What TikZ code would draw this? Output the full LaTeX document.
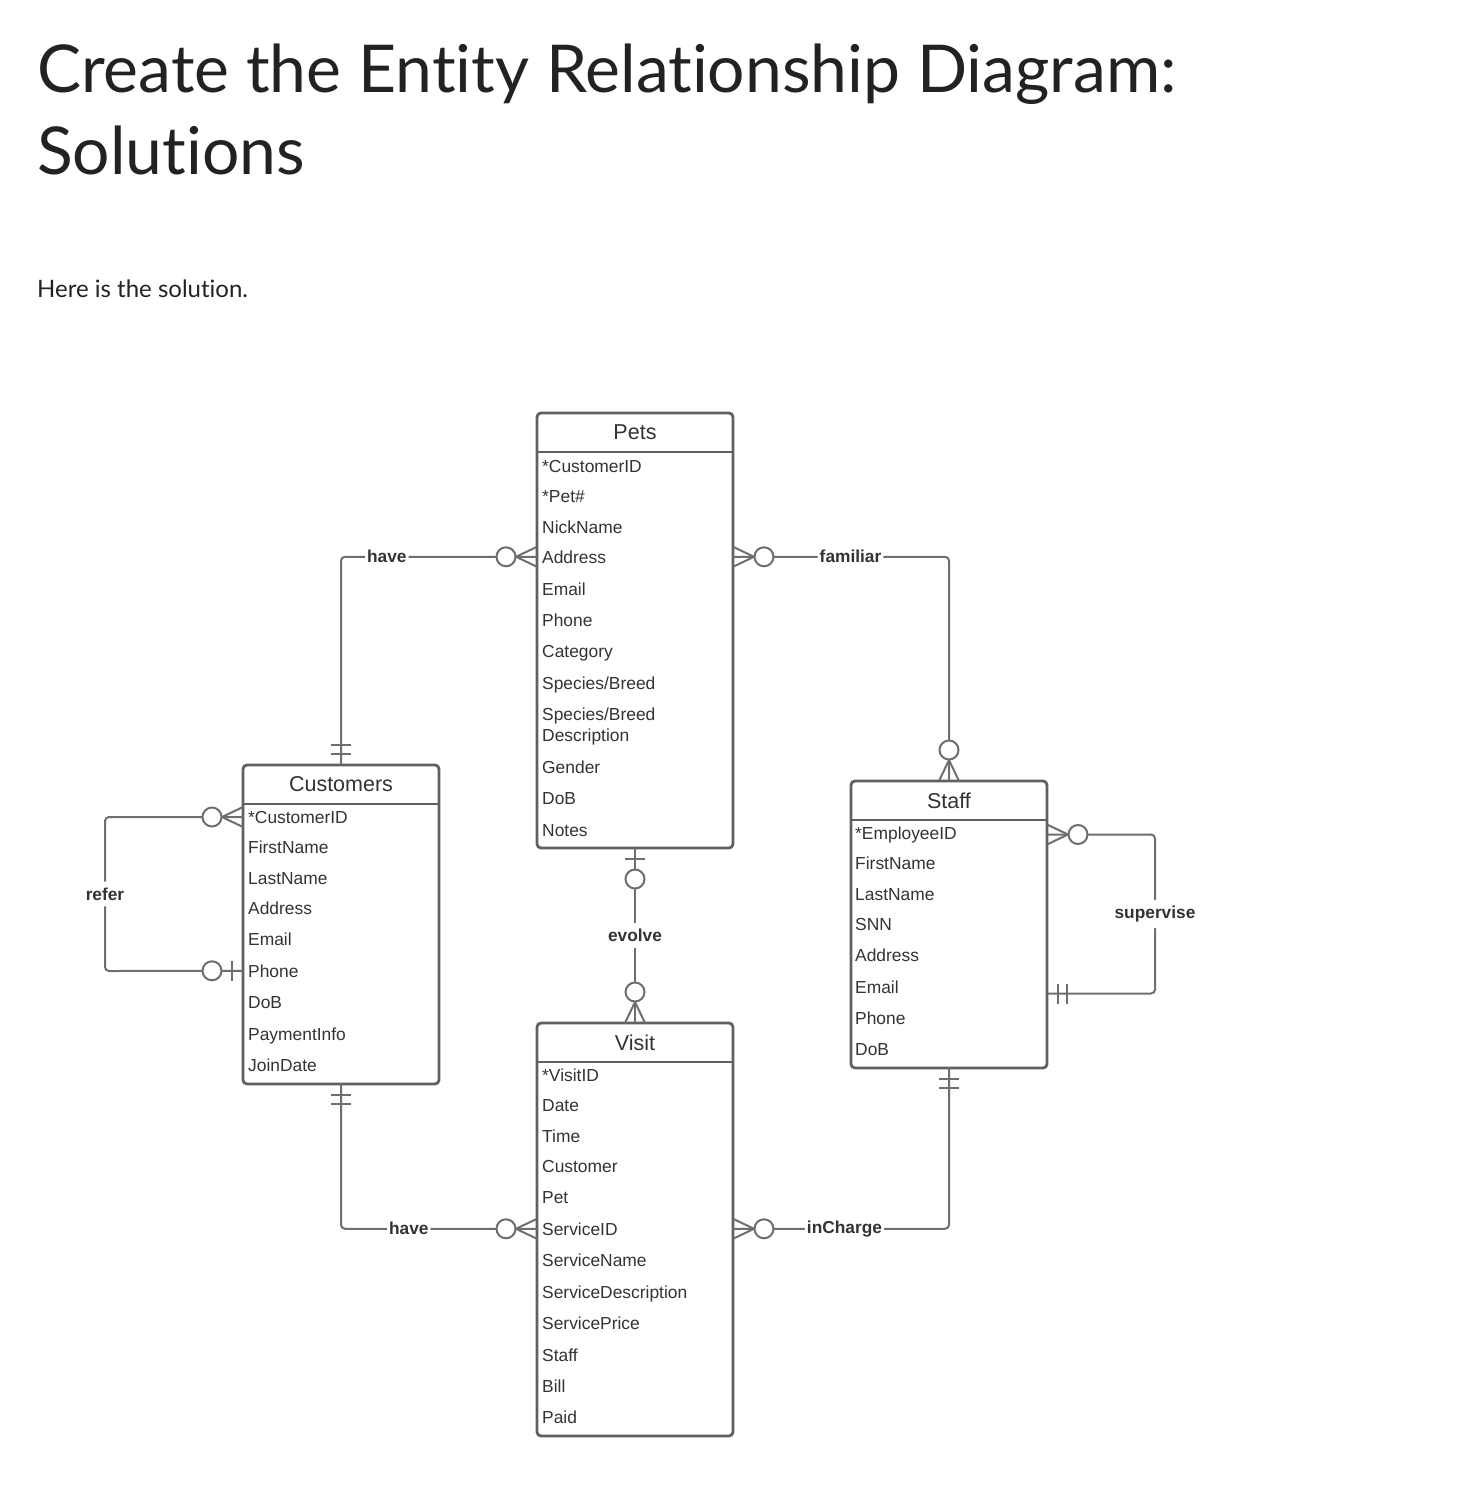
\documentclass[tikz,border=0pt]{standalone}
\usepackage{fontspec}
\setmainfont{Liberation Sans}
\newfontfamily\headfont{Lato}[Ligatures=NoCommon]
\usepackage{tikz}
\definecolor{boxgray}{RGB}{96,96,96}
\definecolor{linegray}{RGB}{110,110,110}
\definecolor{ink}{RGB}{51,51,51}
\definecolor{titleink}{RGB}{34,34,34}

\begin{document}
\begin{tikzpicture}[x=1pt, y=-1pt,
  entity/.style={draw=boxgray, line width=2.8, rounded corners=4, fill=white,
    minimum width=196, outer sep=0, inner sep=0, anchor=north west},
  enthead/.style={minimum width=196, minimum height=39, inner sep=0, outer sep=0,
    anchor=north, font=\fontsize{21.5}{24}\selectfont, text=ink},
  entline/.style={draw=boxgray, line width=2.8},
  attr/.style={anchor=base west, inner sep=0, font=\fontsize{17.4}{20}\selectfont, text=ink},
  rel/.style={draw=linegray, line width=2, rounded corners=4},
  lbl/.style={fill=white, inner xsep=2, inner ysep=6, text=ink,
    font=\bfseries\fontsize{17.3}{20}\selectfont},
  endline/.style={draw=linegray, line width=2},
  ermany/.pic={\draw[endline] (0,-10) -- (21,0) -- (0,10);
    \draw[endline, fill=white] (31,0) circle[radius=9.5];},
  erzone/.pic={\draw[endline] (11,-10) -- (11,10);
    \draw[endline, fill=white] (31,0) circle[radius=9.5];},
  erone/.pic={\draw[endline] (11,-10) -- (11,10) (20,-10) -- (20,10);}
]
\useasboundingbox (0,0) rectangle (1462,1498);

% Page heading.
\node[anchor=base west, inner sep=0, text=titleink, font=\headfont\fontsize{66}{74}\selectfont]
  (title) at (37,93) {Create the Entity Relationship Diagram:};
\node[anchor=base west, inner sep=0, text=titleink, font=\headfont\fontsize{66}{74}\selectfont]
  (title2) at (37,175) {Solutions};
\node[anchor=base west, inner sep=0, text=titleink, font=\headfont\fontsize{24}{28}\selectfont]
  (intro) at (37,297) {Here is the solution.};

% Entities.
\node[entity, minimum height=435] (pets) at (537,413) {};
\node[enthead] (pets-t) at (pets.north) {Pets};
\draw[entline] (pets-t.south west) -- (pets-t.south east);
\foreach \y/\t [count=\i] in {466/{*CustomerID}, 496/{*Pet\#}, 527/NickName, 557/Address,
    589/Email, 620/Phone, 651/Category, 683/{Species/Breed}, 714/{Species/Breed},
    735/Description, 767/Gender, 798/DoB, 830/Notes}
  \node[attr] (pets-\i) at (542,\y+6) {\t};

\node[entity, minimum height=319] (customers) at (243,765) {};
\node[enthead] (customers-t) at (customers.north) {Customers};
\draw[entline] (customers-t.south west) -- (customers-t.south east);
\foreach \y/\t [count=\i] in {817/{*CustomerID}, 847/FirstName, 878/LastName, 908/Address,
    939/Email, 971/Phone, 1002/DoB, 1034/PaymentInfo, 1065/JoinDate}
  \node[attr] (customers-\i) at (248,\y+6) {\t};

\node[entity, minimum height=287] (staff) at (851,781) {};
\node[enthead] (staff-t) at (staff.north) {Staff};
\draw[entline] (staff-t.south west) -- (staff-t.south east);
\foreach \y/\t [count=\i] in {833/{*EmployeeID}, 863/FirstName, 894/LastName, 924/SNN,
    955/Address, 987/Email, 1018/Phone, 1049/DoB}
  \node[attr] (staff-\i) at (855,\y+6) {\t};

\node[entity, minimum height=413] (visit) at (537,1023) {};
\node[enthead] (visit-t) at (visit.north) {Visit};
\draw[entline] (visit-t.south west) -- (visit-t.south east);
\foreach \y/\t [count=\i] in {1075/{*VisitID}, 1105/Date, 1136/Time, 1166/Customer, 1197/Pet,
    1229/ServiceID, 1260/ServiceName, 1292/ServiceDescription, 1323/ServicePrice,
    1355/Staff, 1386/Bill, 1417/Paid}
  \node[attr] (visit-\i) at (542,\y+6) {\t};

% Relationships.
\draw[rel] (customers.north) |- node[lbl, pos=0.617] {have} (pets.west |- pets-4);
\draw[rel] (staff.north) |- node[lbl, pos=0.728] {familiar} (pets.east |- pets-4);
\draw[rel] (customers.west |- customers-1) -- ++(-138,0)
  -- node[lbl] {refer} ++(0,154) -- (customers.west |- customers-6);
\draw[rel] (pets.south) -- node[lbl] {evolve} (visit.north);
\draw[rel] (staff.east |- staff-1) -- ++(108,0)
  -- node[lbl] {supervise} ++(0,159) -- ++(-108,0) coordinate (sup-end);
\draw[rel] (customers.south) |- node[lbl, pos=0.673] {have} (visit.west |- visit-6);
\draw[rel] (staff.south) |- node[lbl, pos=0.742] {inCharge} (visit.east |- visit-6);

% Cardinality ends.
\path (customers.north) pic[rotate=90] {erone};
\path (pets.west |- pets-4) pic[rotate=180] {ermany};
\path (pets.east |- pets-4) pic {ermany};
\path (staff.north) pic[rotate=90] {ermany};
\path (customers.west |- customers-1) pic[rotate=180] {ermany};
\path (customers.west |- customers-6) pic[rotate=180] {erzone};
\path (pets.south) pic[rotate=-90] {erzone};
\path (visit.north) pic[rotate=90] {ermany};
\path (staff.east |- staff-1) pic {ermany};
\path (sup-end) pic {erone};
\path (customers.south) pic[rotate=-90] {erone};
\path (visit.west |- visit-6) pic[rotate=180] {ermany};
\path (staff.south) pic[rotate=-90] {erone};
\path (visit.east |- visit-6) pic {ermany};

\end{tikzpicture}
\end{document}
